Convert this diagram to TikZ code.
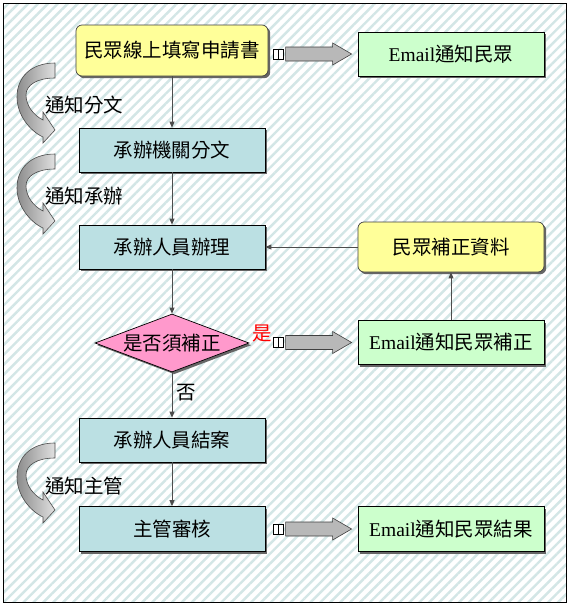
\documentclass[tikz,border=0pt]{standalone}
\usepackage{fontspec}
\newfontfamily\cjk{Noto Sans CJK TC}
\newfontfamily\lat{Liberation Serif}
\usetikzlibrary{arrows.meta,shapes.geometric,shadows,patterns.meta,calc}
\definecolor{yel}{HTML}{FFFF99}
\definecolor{grn}{HTML}{CCFFCC}
\definecolor{tealbox}{HTML}{BBE0E3}
\definecolor{pnk}{HTML}{FF99CC}
\definecolor{stripe}{HTML}{D3E6E6}
\tikzset{
  base/.style={draw=black, line width=0.7pt, inner sep=0pt, align=center,
    font=\cjk\fontsize{19.5}{20}\selectfont,
    drop shadow={shadow xshift=2.2pt, shadow yshift=-2.2pt, fill=black!60, opacity=1}},
  tbox/.style={base, fill=tealbox, minimum width=186pt, minimum height=44pt},
  gbox/.style={base, fill=grn, minimum width=186pt, minimum height=44pt},
  ybox/.style={base, fill=yel, rounded corners=6pt, draw=black!75},
  dbox/.style={base, shape=diamond, fill=pnk, aspect=2.65, minimum width=154pt, minimum height=58pt},
  conn/.style={draw=black!70, line width=0.8pt, -{Triangle[length=6pt,width=5pt]}},
  lbl/.style={font=\cjk\fontsize{19.5}{20}\selectfont, inner sep=0pt},
  curv/.style={draw=black!70, line width=0.6pt, left color=black!45, right color=black!12},
  blk/.style={draw=black!75, line width=0.6pt, fill=black!28},
  sq/.style={draw=black, line width=0.8pt, fill=white}
}
\newcommand\blockarr[1]{%
  \coordinate (tip#1) at ($(#1.west)+(-6,0)$);
  \begin{scope}[shift={(tip#1)}]
    \path[blk] (-66,-7) -- (-19,-7) -- (-19,-11) -- (0,0) -- (-19,11) -- (-19,7) -- (-66,7) -- cycle;
    \path[sq] (-78,-5) rectangle (-73,5);
    \path[sq] (-73,-5) rectangle (-68,5);
  \end{scope}}
\newcommand\curvearr[1]{%
  \begin{scope}[shift={#1}]
    \path[curv] (0,0) .. controls (-25,0) and (-38,15) .. (-38,34)
      .. controls (-38,52) and (-25,68) .. (-12,74) -- (-12,80) -- (0,67) -- (-12,49) -- (-12,57)
      .. controls (-22,52) and (-29,42) .. (-29,32)
      .. controls (-29,22) and (-18,15) .. (0,15) -- cycle;
  \end{scope}}
\begin{document}
\begin{tikzpicture}[x=1pt,y=-1pt]
\useasboundingbox (0,0) rectangle (571,606);
\fill[white] (0,0) rectangle (571,606);
\fill[white] (3,3) rectangle (566,602);
\path[pattern={Lines[angle=45,distance=7pt,line width=2.4pt]}, pattern color=stripe] (3,3) rectangle (566,602);
\draw[black, line width=0.8pt] (3,3) rectangle (566,602);

% curved notice arrows
\curvearr{(55,63)}
\curvearr{(55,154)}
\curvearr{(55,443)}
\node[lbl, anchor=west] (l1) at (45,105) {通知分文};
\node[lbl, anchor=west] (l2) at (45,196) {通知承辦};
\node[lbl, anchor=west] (l3) at (45,486.5) {通知主管};

% nodes
\node[ybox, minimum width=192pt, minimum height=51pt] (apply) at (172,50.5) {民眾線上填寫申請書};
\node[gbox] (mail1) at (451,54) {{\lat Email}通知民眾};
\node[tbox] (assign) at (172,150) {承辦機關分文};
\node[tbox] (handle) at (172,247) {承辦人員辦理};
\node[ybox, minimum width=186pt, minimum height=50pt] (supply) at (451,247) {民眾補正資料};
\node[dbox] (need) at (172,343) {是否須補正};
\node[gbox] (mail2) at (451,342.5) {{\lat Email}通知民眾補正};
\node[tbox] (close) at (172,440) {承辦人員結案};
\node[tbox, minimum height=45pt] (review) at (172,529) {主管審核};
\node[gbox, minimum height=45pt] (mail3) at (451,529) {{\lat Email}通知民眾結果};

% connectors
\draw[conn] (apply) -- (assign);
\draw[conn] (assign) -- (handle);
\draw[conn] (handle) -- (need);
\draw[conn] (need) -- node[lbl, right=4pt, pos=0.45] (no) {否} (close);
\draw[conn] (close) -- (review);
\draw[conn] (mail2) -- (supply);
\draw[conn] (supply) -- (handle);

% block arrows
\blockarr{mail1}
\blockarr{mail2}
\blockarr{mail3}
\node[lbl, text=red] (yes) at (262,333) {是};
\end{tikzpicture}
\end{document}
